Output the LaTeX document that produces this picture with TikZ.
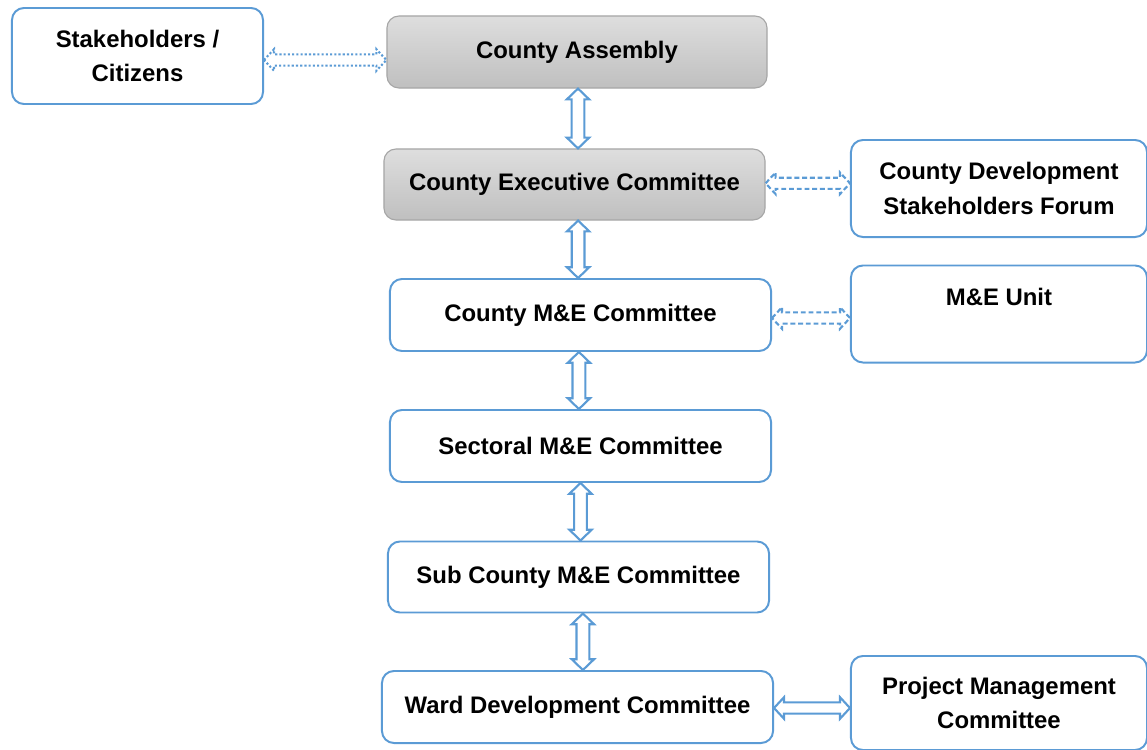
\documentclass[tikz,border=0pt]{standalone}
\usepackage{fontspec}
\setmainfont{Liberation Sans}
\usepackage{xcolor}
\usetikzlibrary{calc,positioning}
\definecolor{boxblue}{RGB}{91,155,213}
\definecolor{boxgrey}{RGB}{166,166,166}

% double block arrow between two stacked boxes
\newcommand{\vlink}[3][0cm]{%
  \draw[block_arrow] let \p1=([xshift=#1]#2.south), \p2=(#3.north) in
    (\x1,\y1) -- (\x1+0.28cm,\y1-0.27cm) -- (\x1+0.16cm,\y1-0.27cm)
    -- (\x1+0.16cm,\y2+0.27cm) -- (\x1+0.28cm,\y2+0.27cm) -- (\x1,\y2)
    -- (\x1-0.28cm,\y2+0.27cm) -- (\x1-0.16cm,\y2+0.27cm)
    -- (\x1-0.16cm,\y1-0.27cm) -- (\x1-0.28cm,\y1-0.27cm) -- cycle;}
% double block arrow between two boxes side by side
\newcommand{\hlink}[4][0cm]{%
  \draw[block_arrow,#2] let \p1=([yshift=#1]#3.east), \p2=(#4.west) in
    (\x1,\y1) -- (\x1+0.25cm,\y1+0.27cm) -- (\x1+0.25cm,\y1+0.14cm)
    -- (\x2-0.25cm,\y1+0.14cm) -- (\x2-0.25cm,\y1+0.27cm) -- (\x2,\y1)
    -- (\x2-0.25cm,\y1-0.27cm) -- (\x2-0.25cm,\y1-0.14cm)
    -- (\x1+0.25cm,\y1-0.14cm) -- (\x1+0.25cm,\y1-0.27cm) -- cycle;}

\begin{document}
\begin{tikzpicture}[
        x=0.025cm, y=-0.025cm,
        box_style/.style={
            draw=boxblue, line width=1.4pt, rounded corners=0.3cm, fill=white,
            align=center, inner sep=2pt,
            font=\fontsize{17}{24.5}\selectfont\bfseries
        },
        grey_style/.style={
            box_style, draw=boxgrey, line width=0.8pt,
            top color=black!13, bottom color=black!25
        },
        block_arrow/.style={draw=boxblue, line width=1.5pt, fill=white, line join=miter},
        dash_style/.style={dash pattern=on 3.5pt off 2pt},
        dot_style/.style={dash pattern=on 1.5pt off 1.5pt}
    ]
    \useasboundingbox (0,0) rectangle (1147,750);

    % Main column
    \node[grey_style, minimum width=9.5cm, minimum height=1.8cm] (assembly) at (577,52) {County Assembly};
    \node[grey_style, minimum width=9.525cm, minimum height=1.775cm] (exec) at (574.5,184.5) {County Executive Committee};
    \node[box_style, minimum width=9.525cm, minimum height=1.8cm] (mecomm) at (580.5,315) {County M\&E Committee};
    \node[box_style, minimum width=9.525cm, minimum height=1.8cm] (sectoral) at (580.5,446) {Sectoral M\&E Committee};
    \node[box_style, minimum width=9.525cm, minimum height=1.775cm] (subcounty) at (578.5,577) {Sub County M\&E Committee};
    \node[box_style, minimum width=9.775cm, minimum height=1.8cm] (ward) at (577.5,707) {Ward Development Committee};

    % Side boxes
    \node[box_style, minimum width=6.275cm, minimum height=2.4cm] (citizens) at (137.5,56) {Stakeholders /\\Citizens};
    \node[box_style, minimum width=7.4cm, minimum height=2.425cm] (forum) at (999,188.5) {County Development\\Stakeholders Forum};
    \node[box_style, minimum width=7.4cm, minimum height=2.425cm] (meunit) at (999,314) {M\&E Unit\\\mbox{}};
    \node[box_style, minimum width=7.4cm, minimum height=2.35cm] (pmc) at (999,703) {Project Management\\Committee};

    % Vertical links
    \vlink[0.025cm]{assembly}{exec}
    \vlink[0.09cm]{exec}{mecomm}
    \vlink[-0.04cm]{mecomm}{sectoral}
    \vlink{sectoral}{subcounty}
    \vlink[0.11cm]{subcounty}{ward}

    % Horizontal links
    \hlink[-0.1cm]{dot_style}{citizens}{assembly}
    \hlink[0.03cm]{dash_style}{exec}{forum}
    \hlink[-0.075cm]{dash_style}{mecomm}{meunit}
    \hlink[-0.025cm]{}{ward}{pmc}
\end{tikzpicture}
\end{document}
